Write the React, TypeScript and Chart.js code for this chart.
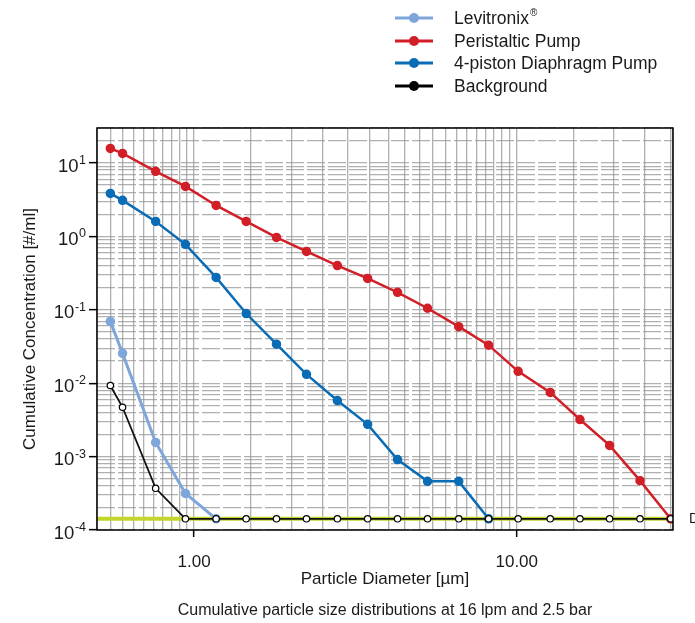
import React, { useEffect, useRef } from "react";
import { Chart, registerables } from "chart.js";

Chart.register(...registerables);

// ---- Data ----
const particleSizes = [0.55, 0.6, 0.76, 0.94, 1.17, 1.45, 1.8, 2.23, 2.78, 3.45, 4.27, 5.29, 6.61, 8.18, 10.1, 12.7, 15.7, 19.4, 24.1, 30];
const levitronix = [0.0695, 0.0255, 0.00156, 0.000315, 0.000142, null, null, null, null, null, null, null, null, null, null, null, null, null, null, null];
const peristalticPump = [15.8, 13.5, 7.7, 4.8, 2.64, 1.6, 0.97, 0.625, 0.4, 0.268, 0.173, 0.105, 0.059, 0.033, 0.0145, 0.0075, 0.0032, 0.00142, 0.00047, 0.000142];
const diaphragmPump = [3.85, 3.1, 1.6, 0.78, 0.276, 0.089, 0.034, 0.0132, 0.0058, 0.00275, 0.00091, 0.00046, 0.00046, 0.000142, null, null, null, null, null, null];
const backgroundSeries = [0.0093, 0.0047, 0.00037, 0.000142, 0.000142, 0.000142, 0.000142, 0.000142, 0.000142, 0.000142, 0.000142, 0.000142, 0.000142, 0.000142, 0.000142, 0.000142, 0.000142, 0.000142, 0.000142, 0.000142];
const detectionLimitX = [0.5, 30.5];
const detectionLimitY = [0.000142, 0.000142];

const seriesNames = ["Levitronix", "Peristaltic Pump", "4-piston Diaphragm Pump", "Background"];
const xMajorTicks = [1, 10];
const xTickLabels = ["1.00", "10.00"];
const yDecades = [-4, -3, -2, -1, 0, 1];
const yTickExponents = ["-4", "-3", "-2", "-1", "0", "1"];
const xTitle = "Particle Diameter [\u00B5m]";
const yTitle = "Cumulative Concentration [#/ml]";
const caption = "Cumulative particle size distributions at 16 lpm and 2.5 bar";

const FONT = "'Liberation Sans', Arial, Helvetica, sans-serif";
const RED = "#d21f27";
const BLUE = "#0b6cb6";
const LIGHT = "#7ea6da";
const LIME = "#c4d52c";
const TEXT = "#1a1a1a";

function xGridValues(): number[] {
  const v: number[] = [];
  for (let i = 10; i <= 20; i++) v.push(i * 0.05);
  for (let i = 3; i <= 20; i++) v.push(i * 0.5);
  for (let i = 3; i <= 6; i++) v.push(i * 5);
  v.push(30.5);
  return v;
}
function yGridValues(): number[] {
  const v: number[] = [];
  for (const e of yDecades) {
    for (let k = 1; k <= 9; k++) {
      const val = k * Math.pow(10, e);
      if (val <= 30.0001) v.push(val);
    }
  }
  return v;
}
const isDecade = (v: number) => Math.abs(Math.log10(v) - Math.round(Math.log10(v))) < 1e-6;
const isXMajor = (v: number) => xMajorTicks.some((m) => Math.abs(m - v) < 1e-6);

function pts(ys: (number | null)[]) {
  return particleSizes.map((x, i) => ({ x, y: ys[i] }));
}

const overlayPlugin = {
  id: "overlay",
  afterDraw(chart: any) {
    const ctx = chart.ctx;
    const a = chart.chartArea;
    ctx.save();
    // frame
    ctx.strokeStyle = "#000";
    ctx.lineWidth = 1.5;
    ctx.strokeRect(a.left, a.top, a.right - a.left, a.bottom - a.top);

    // y tick labels: 10 with superscript exponent
    const ys = chart.scales.y;
    ctx.fillStyle = TEXT;
    ctx.textAlign = "right";
    ctx.textBaseline = "alphabetic";
    yDecades.forEach((e, i) => {
      const py = ys.getPixelForValue(Math.pow(10, e));
      const exp = yTickExponents[i];
      ctx.font = `12.5px ${FONT}`;
      const ew = ctx.measureText(exp).width;
      ctx.fillText(exp, 86, py + 1);
      ctx.font = `18.5px ${FONT}`;
      ctx.fillText("10", 86 - ew - 0.5, py + 8.5);
    });

    // legend
    const colors = [LIGHT, RED, BLUE, "#000"];
    const rowsY = [18, 41, 63, 86];
    ctx.textBaseline = "middle";
    ctx.textAlign = "left";
    seriesNames.forEach((name, i) => {
      const y = rowsY[i];
      ctx.strokeStyle = colors[i];
      ctx.lineWidth = 3;
      ctx.beginPath();
      ctx.moveTo(395, y);
      ctx.lineTo(433, y);
      ctx.stroke();
      ctx.fillStyle = colors[i];
      ctx.beginPath();
      ctx.arc(414, y, 5, 0, Math.PI * 2);
      ctx.fill();
      ctx.fillStyle = TEXT;
      ctx.font = `17.5px ${FONT}`;
      ctx.fillText(name, 454, y + 1);
      if (i === 0) {
        const w = ctx.measureText(name).width;
        ctx.font = `10px ${FONT}`;
        ctx.fillText("\u00AE", 454 + w + 1, y - 5);
      }
    });

    // caption
    ctx.fillStyle = TEXT;
    ctx.font = `16px ${FONT}`;
    ctx.textAlign = "center";
    ctx.fillText(caption, (a.left + a.right) / 2, 611);

    // clipped label at right of detection line
    ctx.textAlign = "left";
    ctx.font = `14px ${FONT}`;
    const yPix = ys.getPixelForValue(detectionLimitY[0]);
    ctx.fillText("DL", 689, yPix);
    ctx.restore();
  },
};

export default function App() {
  const ref = useRef<HTMLCanvasElement>(null);
  useEffect(() => {
    const canvas = ref.current!;
    const gridColor = "rgba(150,150,150,0.75)";
    const chart = new Chart(canvas, {
      type: "line",
      data: {
        datasets: [
          {
            label: seriesNames[3],
            data: pts(backgroundSeries),
            borderColor: "#111",
            backgroundColor: "#fff",
            pointBackgroundColor: "#fff",
            pointBorderColor: "#000",
            pointBorderWidth: 1.2,
            borderWidth: 1.8,
            pointRadius: 3.2,
            order: 0,
          },
          {
            label: seriesNames[0],
            data: pts(levitronix),
            borderColor: LIGHT,
            backgroundColor: LIGHT,
            borderWidth: 3,
            pointRadius: 3.3,
            order: 1,
          },
          {
            label: seriesNames[2],
            data: pts(diaphragmPump),
            borderColor: BLUE,
            backgroundColor: BLUE,
            borderWidth: 2.5,
            pointRadius: 3.5,
            order: 2,
          },
          {
            label: seriesNames[1],
            data: pts(peristalticPump),
            borderColor: RED,
            backgroundColor: RED,
            borderWidth: 2.5,
            pointRadius: 3.5,
            order: 3,
          },
          {
            label: "Detection limit",
            data: detectionLimitX.map((x, i) => ({ x, y: detectionLimitY[i] })),
            borderColor: LIME,
            backgroundColor: LIME,
            borderWidth: 4,
            pointRadius: 0,
            order: 10,
          },
        ],
      },
      options: {
        animation: false,
        responsive: false,
        devicePixelRatio: 1,
        spanGaps: false,
        layout: { padding: { top: 128, right: 22, bottom: 33, left: 0 } },
        plugins: {
          legend: { display: false },
          tooltip: { enabled: false },
          title: { display: false },
        },
        scales: {
          x: {
            type: "logarithmic",
            min: 0.5,
            max: 30.5,
            afterBuildTicks: (scale: any) => {
              scale.ticks = xGridValues().map((value) => ({ value }));
            },
            afterFit: (scale: any) => {
              scale.height = 60;
            },
            border: { display: false },
            grid: {
              color: gridColor,
              lineWidth: 1.3,
              drawTicks: true,
              tickLength: 7,
              tickWidth: 1.5,
              tickColor: (c: any) => (c.tick && isXMajor(c.tick.value) ? "#000" : "rgba(0,0,0,0)"),
            },
            ticks: {
              autoSkip: false,
              maxRotation: 0,
              padding: 15,
              color: TEXT,
              font: { size: 17, family: FONT },
              callback: (v: any) => {
                const idx = xMajorTicks.findIndex((m) => Math.abs(m - Number(v)) < 1e-6);
                return idx >= 0 ? xTickLabels[idx] : "";
              },
            },
            title: {
              display: true,
              text: xTitle,
              color: TEXT,
              font: { size: 17, family: FONT },
              padding: { top: 0, bottom: 0 },
            },
          },
          y: {
            type: "logarithmic",
            min: 0.0001,
            max: 30,
            afterBuildTicks: (scale: any) => {
              scale.ticks = yGridValues().map((value) => ({ value }));
            },
            afterFit: (scale: any) => {
              scale.width = 97;
            },
            border: { display: false, dash: [18, 3] },
            grid: {
              color: gridColor,
              lineWidth: 1.3,
              drawTicks: true,
              tickLength: 8,
              tickWidth: 1.5,
              tickColor: (c: any) => (c.tick && isDecade(c.tick.value) ? "#000" : "rgba(0,0,0,0)"),
            },
            ticks: {
              display: false,
              autoSkip: false,
            },
            title: {
              display: true,
              text: yTitle,
              color: TEXT,
              font: { size: 17, family: FONT },
              padding: { top: 20, bottom: 0 },
            },
          },
        },
      } as any,
      plugins: [overlayPlugin],
    });
    return () => chart.destroy();
  }, []);

  return (
    <div style={{ position: "fixed", left: 0, top: 0, width: 695, height: 623, background: "#fff" }}>
      <canvas ref={ref} width={695} height={623} style={{ display: "block", width: 695, height: 623 }} />
    </div>
  );
}
